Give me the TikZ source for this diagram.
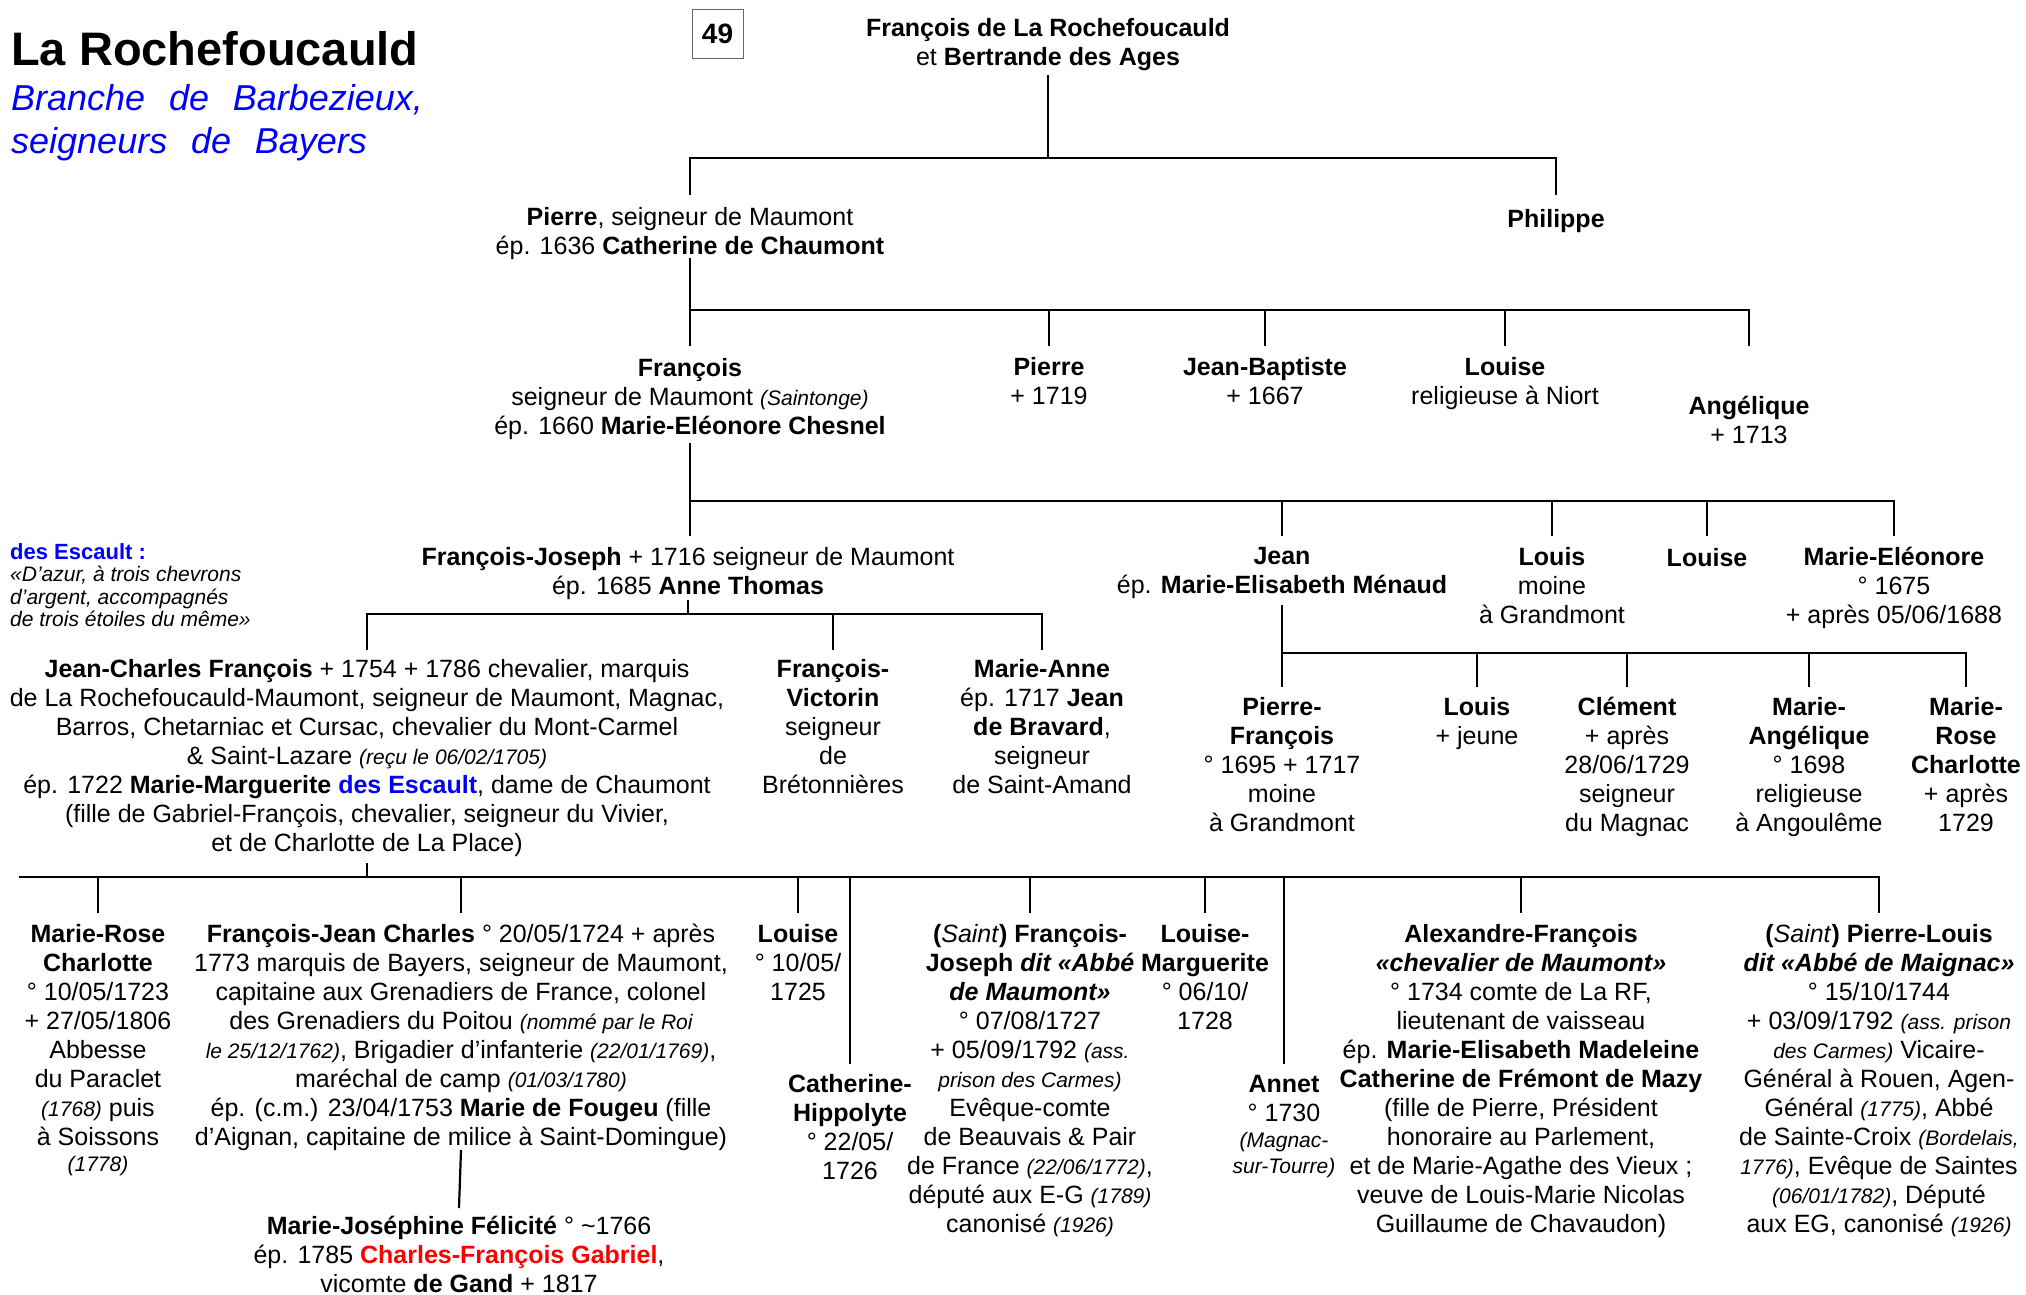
\documentclass[tikz,border=0pt]{standalone}
\usepackage{fontspec}
\setmainfont{Liberation Sans}
\newcommand{\sm}[1]{{\fontsize{21}{29}\selectfont\itshape #1}}
\newcommand{\bi}[1]{\textbf{\textit{#1}}}

\begin{document}
\begin{tikzpicture}[
  x=1pt, y=-1pt,
  person/.style={align=center, inner sep=0pt, anchor=north,
                 font={\fontsize{25}{29}\selectfont}, execute at begin node=\strut},
  link/.style={line width=2.2pt},
  bar/.style={line width=2.6pt, line join=miter},
]
  \useasboundingbox (0,0) rectangle (2026,1294);

  % Title
  \node[anchor=base west, inner sep=0pt, font={\fontsize{47}{56}\selectfont\bfseries}] (title) at (11,65) {La Rochefoucauld};
  \node[anchor=north west, inner sep=0pt, align=left, text=blue,
        font={\fontsize{36}{43}\selectfont\itshape\spaceskip=0.66em\relax}] (sub) at (11,80)
    {\strut Branche de Barbezieux,\\seigneurs de Bayers};
  \node[draw=black!60, line width=1pt, minimum width=51pt, minimum height=49pt, inner sep=0pt,
        font={\fontsize{28}{30}\selectfont\bfseries}] (page) at (717.5,33.5) {49};

  % Generation 1
  \node[person] (top) at (1048,18) {\textbf{François de La Rochefoucauld}\\et \textbf{Bertrande des Ages}};
  \node[person] (pierre) at (690,207) {\textbf{Pierre}, seigneur de Maumont\\ép. 1636 \textbf{Catherine de Chaumont}};
  \node[person] (philippe) at (1556,207) {\textbf{Philippe}};

  % Generation 2
  \node[person] (francois) at (690,358) {\textbf{François}\\seigneur de Maumont \sm{(Saintonge)}\\ép. 1660 \textbf{Marie-Eléonore Chesnel}};
  \node[person] (pierreB) at (1049,357) {\textbf{Pierre}\\+ 1719};
  \node[person] (jeanbapt) at (1265,357) {\textbf{Jean-Baptiste}\\+ 1667};
  \node[person] (louiseA) at (1505,357) {\textbf{Louise}\\religieuse à Niort};
  \node[person] (angelique) at (1749,396) {\textbf{Angélique}\\+ 1713};

  % Generation 3
  \node[person] (fj) at (688,547) {\textbf{François-Joseph} + 1716 seigneur de Maumont\\ép. 1685 \textbf{Anne Thomas}};
  \node[person] (jean) at (1282,547) {\textbf{Jean}\\ép. \textbf{Marie-Elisabeth Ménaud}};
  \node[person] (louisA) at (1552,547) {\textbf{Louis}\\moine\\à Grandmont};
  \node[person] (louiseB) at (1707,546) {\textbf{Louise}};
  \node[person] (marieel) at (1894,547) {\textbf{Marie-Eléonore}\\° 1675\\+ après 05/06/1688};
  \node[anchor=north west, inner sep=0pt, align=left, font={\fontsize{21}{22.5}\selectfont}] (escault) at (10,543)
    {\strut\textcolor{blue}{\fontsize{22}{22.5}\selectfont\textbf{des Escault :}}\\\itshape «D'azur, à trois chevrons\\\itshape d'argent, accompagnés\\\itshape de trois étoiles du même»};

  % Generation 4
  \node[person] (jcf) at (367,659) {\textbf{Jean-Charles François} + 1754 + 1786 chevalier, marquis\\de La Rochefoucauld-Maumont, seigneur de Maumont, Magnac,\\Barros, Chetarniac et Cursac, chevalier du Mont-Carmel\\\& Saint-Lazare \sm{(reçu le 06/02/1705)}\\ép. 1722 \textbf{Marie-Marguerite \textcolor{blue}{des Escault}}, dame de Chaumont\\(fille de Gabriel-François, chevalier, seigneur du Vivier,\\et de Charlotte de La Place)};
  \node[person] (fv) at (833,659) {\textbf{François-}\\\textbf{Victorin}\\seigneur\\de\\Brétonnières};
  \node[person] (marieanne) at (1042,659) {\textbf{Marie-Anne}\\ép. 1717 \textbf{Jean}\\\textbf{de Bravard},\\seigneur\\de Saint-Amand};
  \node[person] (pf) at (1282,697) {\textbf{Pierre-}\\\textbf{François}\\° 1695 + 1717\\moine\\à Grandmont};
  \node[person] (louisB) at (1477,697) {\textbf{Louis}\\+ jeune};
  \node[person] (clement) at (1627,697) {\textbf{Clément}\\+ après\\28/06/1729\\seigneur\\du Magnac};
  \node[person] (marieang) at (1809,697) {\textbf{Marie-}\\\textbf{Angélique}\\° 1698\\religieuse\\à Angoulême};
  \node[person] (marierose) at (1966,697) {\textbf{Marie-}\\\textbf{Rose}\\\textbf{Charlotte}\\+ après\\1729};

  % Generation 5
  \node[person] (mrc) at (98,924) {\textbf{Marie-Rose}\\\textbf{Charlotte}\\° 10/05/1723\\+ 27/05/1806\\Abbesse\\du Paraclet\\\sm{(1768)} puis\\à Soissons\\[-3pt]\sm{(1778)}};
  \node[person] (fjc) at (461,924) {\textbf{François-Jean Charles} ° 20/05/1724 + après\\1773 marquis de Bayers, seigneur de Maumont,\\capitaine aux Grenadiers de France, colonel\\des Grenadiers du Poitou \sm{(nommé par le Roi}\\\sm{le 25/12/1762)}, Brigadier d’infanterie \sm{(22/01/1769)},\\maréchal de camp \sm{(01/03/1780)}\\ép. (c.m.) 23/04/1753 \textbf{Marie de Fougeu} (fille\\d’Aignan, capitaine de milice à Saint-Domingue)};
  \node[person] (louiseC) at (798,924) {\textbf{Louise}\\° 10/05/\\1725};
  \node[person] (cath) at (850,1074) {\textbf{Catherine-}\\\textbf{Hippolyte}\\° 22/05/\\1726};
  \node[person] (saintfj) at (1030,924) {\textbf{(}\textit{Saint}\textbf{) François-}\\\textbf{Joseph \textit{dit «Abbé}}\\\bi{de Maumont»}\\° 07/08/1727\\+ 05/09/1792 \sm{(ass.}\\\sm{prison des Carmes)}\\Evêque-comte\\de Beauvais \& Pair\\de France \sm{(22/06/1772)},\\député aux E-G \sm{(1789)}\\canonisé \sm{(1926)}};
  \node[person] (louisemarg) at (1205,924) {\textbf{Louise-}\\\textbf{Marguerite}\\° 06/10/\\1728};
  \node[person] (annet) at (1284,1075) {\textbf{Annet}\\° 1730\\[-3pt]\sm{(Magnac-}\\[-3pt]\sm{sur-Tourre)}};
  \node[person] (alexandre) at (1521,924) {\textbf{Alexandre-François}\\\bi{«chevalier de Maumont»}\\° 1734 comte de La RF,\\lieutenant de vaisseau\\ép. \textbf{Marie-Elisabeth Madeleine}\\\textbf{Catherine de Frémont de Mazy}\\(fille de Pierre, Président\\honoraire au Parlement,\\et de Marie-Agathe des Vieux ;\\veuve de Louis-Marie Nicolas\\Guillaume de Chavaudon)};
  \node[person] (pierrelouis) at (1879,924) {\textbf{(}\textit{Saint}\textbf{) Pierre-Louis}\\\bi{dit «Abbé de Maignac»}\\° 15/10/1744\\+ 03/09/1792 \sm{(ass. prison}\\\sm{des Carmes)} Vicaire-\\Général à Rouen, Agen-\\Général \sm{(1775)}, Abbé\\de Sainte-Croix \sm{(Bordelais,}\\\sm{1776)}, Evêque de Saintes\\\sm{(06/01/1782)}, Député\\aux EG, canonisé \sm{(1926)}};

  % Generation 6
  \node[person] (mjf) at (459,1216) {\textbf{Marie-Joséphine Félicité} ° \textasciitilde 1766\\ép. 1785 \textcolor{red}{\textbf{Charles-François Gabriel}},\\vicomte \textbf{de Gand} + 1817};

  % Levels of the connectors
  \coordinate (t1) at (0,75);   \coordinate (b1) at (0,158);  \coordinate (d1) at (0,195);
  \coordinate (t2) at (0,258);  \coordinate (b2) at (0,310);  \coordinate (d2) at (0,346);
  \coordinate (t3) at (0,443);  \coordinate (b3) at (0,501);  \coordinate (d3) at (0,536);
  \coordinate (t4) at (0,600);  \coordinate (b4) at (0,614);  \coordinate (d4) at (0,650);
  \coordinate (t4r) at (0,605); \coordinate (b4r) at (0,653); \coordinate (d4r) at (0,687);
  \coordinate (t5) at (0,863);  \coordinate (b5) at (0,877);  \coordinate (d5) at (0,913);
  \coordinate (e5) at (0,1064); \coordinate (t6) at (0,1150); \coordinate (d6) at (0,1208);
  \coordinate (l5) at (19,877);

  % Connectors
  \draw[link] (top |- t1) -- (top |- b1);
  \draw[bar] (pierre |- d1) -- (pierre |- b1) -- (philippe |- b1) -- (philippe |- d1);

  \draw[link] (pierre |- t2) -- (francois |- d2);
  \draw[bar] (francois |- b2) -- (angelique |- b2) -- (angelique |- d2);
  \foreach \n in {pierreB, jeanbapt, louiseA}
    \draw[link] (\n |- b2) -- (\n |- d2);

  \draw[link] (francois |- t3) -- (francois |- d3);
  \draw[bar] (francois |- b3) -- (marieel |- b3) -- (marieel |- d3);
  \foreach \n in {jean, louisA, louiseB}
    \draw[link] (\n |- b3) -- (\n |- d3);

  \draw[link] (fj |- t4) -- (fj |- b4);
  \draw[bar] (jcf |- d4) -- (jcf |- b4) -- (marieanne |- b4) -- (marieanne |- d4);
  \draw[link] (fv |- b4) -- (fv |- d4);

  \draw[link] (jean |- t4r) -- (pf |- d4r);
  \draw[bar] (pf |- b4r) -- (marierose |- b4r) -- (marierose |- d4r);
  \foreach \n in {louisB, clement, marieang}
    \draw[link] (\n |- b4r) -- (\n |- d4r);

  \draw[link] (jcf |- t5) -- (jcf |- b5);
  \draw[bar] (l5) -- (pierrelouis |- b5) -- (pierrelouis |- d5);
  \foreach \n in {mrc, fjc, louiseC, saintfj, louisemarg, alexandre}
    \draw[link] (\n |- b5) -- (\n |- d5);
  \foreach \n in {cath, annet}
    \draw[link] (\n |- b5) -- (\n |- e5);

  \draw[link] (fjc |- t6) -- (mjf |- d6);
\end{tikzpicture}
\end{document}
